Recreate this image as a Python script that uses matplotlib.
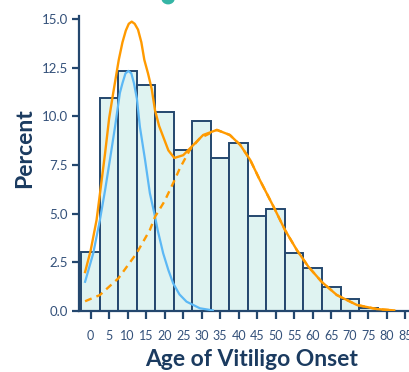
import matplotlib
matplotlib.use('Agg')
import matplotlib.pyplot as plt
from matplotlib.patches import Circle

# histogram of age at onset (bin centres, percent)
ages = [0, 5, 10, 15, 20, 25, 30, 35, 40, 45, 50, 55, 60, 65, 70, 75]
percent = [3.05, 10.96, 12.33, 11.63, 10.2, 8.25, 9.77, 7.86, 8.65, 4.9, 5.22,
           2.96, 2.19, 1.23, 0.63, 0.15]

# fitted curves
mix_x = [-1.5, 0, 1.6, 2.7, 3.9, 5.0, 6.1, 7.6, 8.6, 9.5, 10.3, 11.1, 11.9, 12.8,
         13.7, 14.5, 15.5, 16.5, 17.4, 18.5, 19.6, 21.0, 22.6, 25.0, 27.3, 30.4,
         34.1, 37.6, 40.4, 43.1, 45.7, 49.4, 52.5, 55.7, 58.8, 62.4, 66.5, 71.9,
         77.3, 82.0]
mix_y = [2.0, 3.1, 4.67, 6.3, 8.1, 9.9, 11.2, 12.9, 13.8, 14.4, 14.75, 14.86, 14.75,
         14.45, 13.8, 12.9, 12.2, 11.4, 10.3, 9.5, 8.95, 8.25, 7.86, 8.0, 8.44, 9.04,
         9.3, 9.04, 8.53, 7.76, 6.73, 5.36, 4.16, 3.13, 2.28, 1.5, 0.82, 0.31, 0.1,
         0.03]

early_x = [-1.5, 0.7, 2.5, 3.9, 5.2, 6.6, 7.9, 8.6, 9.4, 10.2, 11.0, 11.7, 12.5,
           13.3, 14.7, 16.0, 17.4, 18.1, 19.6, 21.0, 22.3, 24.0, 25.9, 29.5, 33.0]
early_y = [1.5, 2.96, 4.67, 6.2, 7.76, 9.47, 11.2, 11.7, 12.2, 12.33, 12.2, 11.7,
           10.9, 9.47, 7.76, 6.05, 4.84, 4.16, 2.96, 2.1, 1.42, 0.85, 0.48, 0.14,
           0.03]

late_x = [-1.5, 2.5, 7.5, 12.4, 16.0, 17.4, 20.0, 22.7, 24.1, 26.8, 29.5, 34.1, 37.6,
          40.4, 43.1, 45.7, 49.4, 52.5, 55.7, 58.8, 62.4, 66.5, 71.9, 77.3, 82.0]
late_y = [0.5, 0.82, 1.68, 2.96, 4.16, 4.84, 5.65, 6.73, 7.33, 8.27, 8.87, 9.3, 9.04,
          8.53, 7.76, 6.73, 5.36, 4.16, 3.13, 2.28, 1.5, 0.82, 0.31, 0.1, 0.03]

xticks = list(range(0, 90, 5))
yticks = [0, 2.5, 5, 7.5, 10, 12.5, 15]

navy = '#24476e'
tick_col = '#34517a'
plt.rcParams['font.family'] = ['Lato', 'DejaVu Sans']

fig = plt.figure(figsize=(4.09, 3.72), dpi=100)
ax = fig.add_axes([0.193, 0.164, 0.807, 0.793])

ax.bar(ages, percent, width=5, color='#dff3f1', edgecolor=navy, linewidth=1.4, zorder=2)
ax.plot(early_x, early_y, color='#5cb8f5', linewidth=1.6, zorder=3)
ax.plot(late_x, late_y, color='#ff9a00', linewidth=1.7, linestyle=(0, (3, 2.2)), zorder=3)
ax.plot(mix_x, mix_y, color='#ff9a00', linewidth=1.7, zorder=4)

ax.set_xlim(-3.16, 86)
ax.set_ylim(0, 15.15)
ax.set_xticks(xticks)
ax.set_yticks(yticks)
ax.set_yticklabels(['%.1f' % v for v in yticks])

for side in ['top', 'right']:
    ax.spines[side].set_visible(False)
for side in ['left', 'bottom']:
    ax.spines[side].set_color(navy)
    ax.spines[side].set_linewidth(1.6)

ax.tick_params(axis='x', length=6, width=1.6, color=navy, labelcolor=tick_col,
               labelsize=9, pad=8)
ax.tick_params(axis='y', length=5, width=1.6, color=navy, labelcolor=tick_col,
               labelsize=9.5, pad=3)

fig.text(0.061, 0.601, 'Percent', rotation=90, ha='center', va='center',
         fontsize=16.5, fontweight='bold', color='#1b3b60')
fig.text(0.614, 0.016, 'Age of Vitiligo Onset', ha='center', va='baseline',
         fontsize=16.5, fontweight='bold', color='#1b3b60')

# bit of a teal badge peeking in at the top edge
fig.add_artist(Circle((0.411, 1.005), 0.015, transform=fig.transFigure,
                      color='#35b5a5', clip_on=False))

fig.savefig('out.png', dpi=100)
